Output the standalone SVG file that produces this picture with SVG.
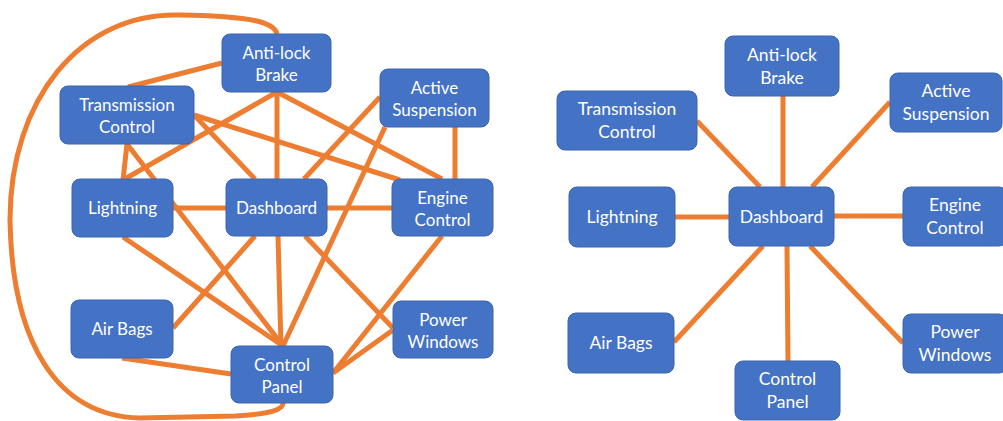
<svg xmlns="http://www.w3.org/2000/svg" width="1003" height="421" viewBox="0 0 1003 421">
<style>
.bg{fill:#FFFFFF}
.edge{stroke:#ED7D31;stroke-width:5;fill:none;stroke-linecap:butt}
.box{fill:#4472C4;stroke:#3A64AE;stroke-width:1}
.lbl{font-family:Lato,"Liberation Sans",sans-serif;font-size:17px;fill:#FFFFFF;text-anchor:middle}
.lblr{font-family:Lato,"Liberation Sans",sans-serif;font-size:17.5px;fill:#FFFFFF;text-anchor:middle}
</style>
<rect class="bg" x="0" y="0" width="1003" height="421"/>
<g id="connectors">
<path class="edge" d="M277,34 C274,20 240,16 180,15 C80,12 10,100 10,220 C12,340 55,416 140,418 L235,416 C270,414 283,410 283,403"/>
<line class="edge" x1="222" y1="63" x2="128" y2="87"/>
<line class="edge" x1="277" y1="92" x2="277" y2="179"/>
<line class="edge" x1="277" y1="92" x2="442" y2="179"/>
<line class="edge" x1="277" y1="92" x2="123" y2="180"/>
<line class="edge" x1="194" y1="115" x2="400" y2="180"/>
<line class="edge" x1="194" y1="115" x2="255" y2="179"/>
<line class="edge" x1="127" y1="144" x2="123" y2="180"/>
<line class="edge" x1="127" y1="144" x2="283" y2="346"/>
<line class="edge" x1="380" y1="97" x2="304" y2="179"/>
<line class="edge" x1="385" y1="127" x2="283" y2="346"/>
<line class="edge" x1="455" y1="127" x2="455" y2="179"/>
<line class="edge" x1="173" y1="208" x2="226" y2="208"/>
<line class="edge" x1="327" y1="208" x2="392" y2="208"/>
<line class="edge" x1="123" y1="237" x2="283" y2="346"/>
<line class="edge" x1="255" y1="236" x2="173" y2="328"/>
<line class="edge" x1="278" y1="236" x2="281" y2="346"/>
<line class="edge" x1="305" y1="236" x2="393" y2="328"/>
<line class="edge" x1="442" y1="236" x2="333" y2="373"/>
<line class="edge" x1="393" y1="330" x2="333" y2="373"/>
<line class="edge" x1="122" y1="358" x2="231" y2="374"/>
<line class="edge" x1="697" y1="121" x2="760" y2="187"/>
<line class="edge" x1="783" y1="96" x2="783" y2="187"/>
<line class="edge" x1="890" y1="102" x2="812" y2="187"/>
<line class="edge" x1="675" y1="217" x2="729" y2="217"/>
<line class="edge" x1="834" y1="216" x2="903" y2="216"/>
<line class="edge" x1="763" y1="246" x2="674" y2="342"/>
<line class="edge" x1="787" y1="246" x2="788" y2="361"/>
<line class="edge" x1="810" y1="246" x2="903" y2="343"/>
</g>
<g id="L_antilock"><rect class="box" x="222" y="34" width="109" height="58" rx="8"/><text class="lbl" x="276.5" y="59">Anti-lock</text><text class="lbl" x="276.5" y="81">Brake</text></g>
<g id="L_transmission"><rect class="box" x="60" y="86" width="134" height="58" rx="8"/><text class="lbl" x="127" y="111">Transmission</text><text class="lbl" x="127" y="133">Control</text></g>
<g id="L_active"><rect class="box" x="380" y="69" width="109" height="58" rx="8"/><text class="lbl" x="434.5" y="94">Active</text><text class="lbl" x="434.5" y="116">Suspension</text></g>
<g id="L_lightning"><rect class="box" x="72" y="179" width="101" height="58" rx="8"/><text class="lbl" x="122.5" y="214">Lightning</text></g>
<g id="L_dashboard"><rect class="box" x="226" y="179" width="101" height="57" rx="8"/><text class="lbl" x="276.5" y="213.5">Dashboard</text></g>
<g id="L_engine"><rect class="box" x="392" y="179" width="101" height="57" rx="8"/><text class="lbl" x="442.5" y="203.5">Engine</text><text class="lbl" x="442.5" y="225.5">Control</text></g>
<g id="L_airbags"><rect class="box" x="71" y="300" width="102" height="58" rx="8"/><text class="lbl" x="122" y="335">Air Bags</text></g>
<g id="L_control"><rect class="box" x="231" y="346" width="102" height="57" rx="8"/><text class="lbl" x="282" y="370.5">Control</text><text class="lbl" x="282" y="392.5">Panel</text></g>
<g id="L_power"><rect class="box" x="393" y="301" width="100" height="57" rx="8"/><text class="lbl" x="443" y="325.5">Power</text><text class="lbl" x="443" y="347.5">Windows</text></g>
<g id="R_antilock"><rect class="box" x="725" y="36" width="114" height="60" rx="8"/><text class="lblr" x="782" y="61">Anti-lock</text><text class="lblr" x="782" y="84">Brake</text></g>
<g id="R_transmission"><rect class="box" x="557" y="91" width="140" height="59" rx="8"/><text class="lblr" x="627" y="115">Transmission</text><text class="lblr" x="627" y="138">Control</text></g>
<g id="R_active"><rect class="box" x="890" y="73" width="112" height="59" rx="8"/><text class="lblr" x="946" y="97">Active</text><text class="lblr" x="946" y="120">Suspension</text></g>
<g id="R_lightning"><rect class="box" x="569" y="187" width="106" height="60" rx="8"/><text class="lblr" x="622" y="223">Lightning</text></g>
<g id="R_dashboard"><rect class="box" x="729" y="187" width="105" height="59" rx="8"/><text class="lblr" x="781.5" y="222.5">Dashboard</text></g>
<g id="R_engine"><rect class="box" x="903" y="187" width="104" height="59" rx="8"/><text class="lblr" x="955" y="211">Engine</text><text class="lblr" x="955" y="234">Control</text></g>
<g id="R_airbags"><rect class="box" x="568" y="313" width="106" height="60" rx="8"/><text class="lblr" x="621" y="349">Air Bags</text></g>
<g id="R_control"><rect class="box" x="735" y="361" width="105" height="59" rx="8"/><text class="lblr" x="787.5" y="385">Control</text><text class="lblr" x="787.5" y="408">Panel</text></g>
<g id="R_power"><rect class="box" x="903" y="314" width="104" height="59" rx="8"/><text class="lblr" x="955" y="338">Power</text><text class="lblr" x="955" y="361">Windows</text></g>
</svg>
